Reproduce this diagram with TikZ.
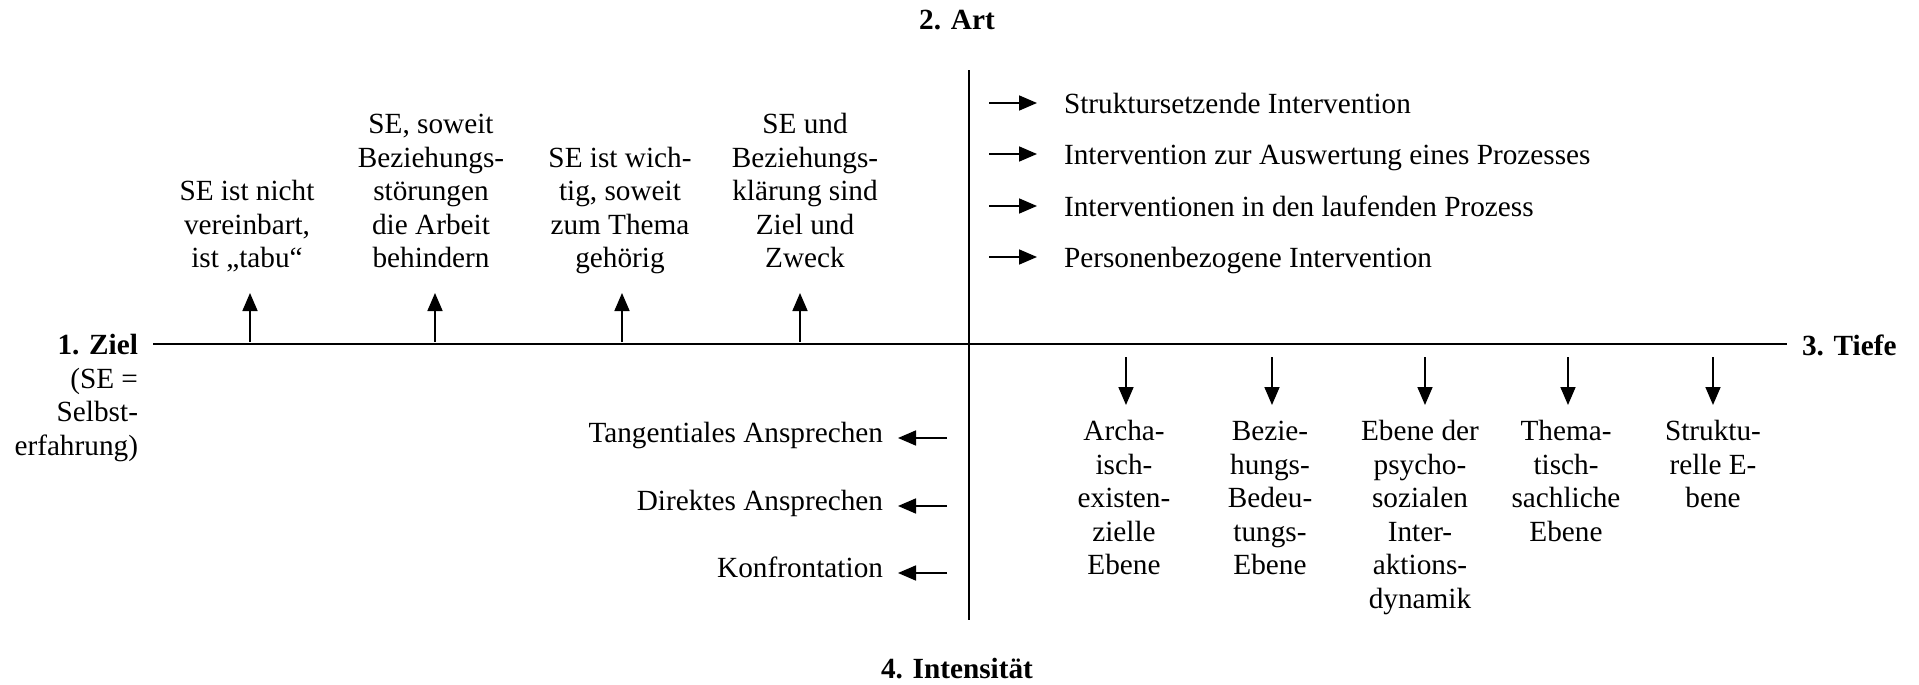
\documentclass[tikz,border=0pt]{standalone}
\usepackage{fontspec}
\setmainfont{Liberation Serif}
\usetikzlibrary{arrows.meta}
\newcommand\txtfont{\fontsize{14.63pt}{16.75pt}\selectfont}
\begin{document}
\begin{tikzpicture}[x=0.5pt,y=-0.5pt,
  every node/.style={inner sep=0pt, outer sep=0pt, font=\txtfont},
  axisline/.style={line width=1.4pt},
  arr/.style={line width=0.85pt, -{Triangle[length=9pt,width=7.5pt]}},
  lbl/.style={font=\txtfont\bfseries},
  col/.style={align=center},
]
\useasboundingbox (0,0) rectangle (1919,685);

% axes
\coordinate (hL) at (153,344);
\coordinate (hR) at (1787,344);
\coordinate (vT) at (969,70);
\coordinate (vB) at (969,620);
\draw[axisline] (hL) -- (hR);
\draw[axisline] (vT) -- (vB);

% axis labels
\node[lbl, anchor=base] (art) at (957,30) {2. Art};
\node[lbl, anchor=base] (intens) at (957,678) {4. Intensität};
\node[lbl, anchor=base west] (tiefe) at (1802,355) {3. Tiefe};
\node[align=right, anchor=north east] (ziel) at (138,331.5)
  {\textbf{1. Ziel}\strut\\(SE =\\Selbst-\\erfahrung)};

% 1. Ziel: columns above axis
\node[col, anchor=south] (t1) at (247,278) {SE ist nicht\\vereinbart,\\ist „tabu“\strut};
\node[col, anchor=south] (t2) at (431,278) {SE, soweit\\Beziehungs-\\störungen\\die Arbeit\\behindern\strut};
\node[col, anchor=south] (t3) at (620,278) {SE ist wich-\\tig, soweit\\zum Thema\\gehörig\strut};
\node[col, anchor=south] (t4) at (805,278) {SE und\\Beziehungs-\\klärung sind\\Ziel und\\Zweck\strut};

\foreach \i/\x in {1/250,2/435,3/622,4/800}{
  \coordinate (ua\i) at (\x,342);
  \coordinate (ub\i) at (\x,293);
  \draw[arr] (ua\i) -- (ub\i);
}

% 2. Art: list right of vertical axis
\node[anchor=base west] (r1) at (1064,113) {Struktursetzende Intervention};
\node[anchor=base west] (r2) at (1064,164) {Intervention zur Auswertung eines Prozesses};
\node[anchor=base west] (r3) at (1064,216) {Interventionen in den laufenden Prozess};
\node[anchor=base west] (r4) at (1064,267) {Personenbezogene Intervention};
\foreach \i/\y in {1/103,2/154,3/206,4/257}{
  \coordinate (ra\i) at (989,\y);
  \coordinate (rb\i) at (1037,\y);
  \draw[arr] (ra\i) -- (rb\i);
}

% 3. Tiefe: columns below axis
\node[col, anchor=north] (b1) at (1124,417.5) {\strut Archa-\\isch-\\existen-\\zielle\\Ebene};
\node[col, anchor=north] (b2) at (1270,417.5) {\strut Bezie-\\hungs-\\Bedeu-\\tungs-\\Ebene};
\node[col, anchor=north] (b3) at (1420,417.5) {\strut Ebene der\\psycho-\\sozialen\\Inter-\\aktions-\\dynamik};
\node[col, anchor=north] (b4) at (1566,417.5) {\strut Thema-\\tisch-\\sachliche\\Ebene};
\node[col, anchor=north] (b5) at (1713,417.5) {\strut Struktu-\\relle E-\\bene};
\foreach \i/\x in {1/1126,2/1272,3/1425,4/1568,5/1713}{
  \coordinate (da\i) at (\x,357);
  \coordinate (db\i) at (\x,405);
  \draw[arr] (da\i) -- (db\i);
}

% 4. Intensität: list left of vertical axis
\node[anchor=base east] (l1) at (883,442) {Tangentiales Ansprechen};
\node[anchor=base east] (l2) at (883,510) {Direktes Ansprechen};
\node[anchor=base east] (l3) at (883,577) {Konfrontation};
\foreach \i/\y in {1/438,2/506,3/573}{
  \coordinate (la\i) at (947,\y);
  \coordinate (lb\i) at (898,\y);
  \draw[arr] (la\i) -- (lb\i);
}
\end{tikzpicture}
\end{document}
